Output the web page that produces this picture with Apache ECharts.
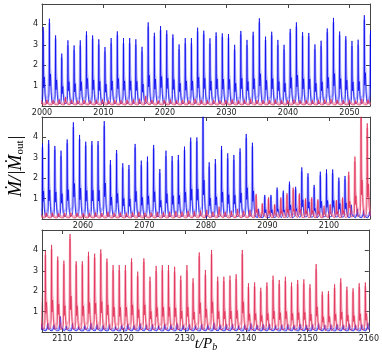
<!DOCTYPE html>
<html>
<head>
<meta charset="utf-8">
<script src="https://cdn.jsdelivr.net/npm/echarts@6/dist/echarts.min.js"></script>
<style>
html, body { margin: 0; padding: 0; background: #fff; }
#main { width: 382px; height: 363px; }
</style>
</head>
<body>
<div id="main"></div>
<script>
// one spike per binary orbit, k = 0 .. 159
var t0 = 2000.2, period = 1.004, redShift = -0.4;

var panelRanges = [[2000, 2053.33], [2053.33, 2106.67], [2106.67, 2160]];
var xTicks = [
    [2000, 2010, 2020, 2030, 2040, 2050],
    [2060, 2070, 2080, 2090, 2100],
    [2110, 2120, 2130, 2140, 2150, 2160]
];

// peak of each orbit (blue)
var bluePeak = [
    3.87, 4.28, 3.46, 2.57, 3.22, 2.97, 3.22, 3.66, 3.46, 3.27, 2.89, 3.33, 3.66,
    3.33, 3.33, 3.27, 2.9, 4.1, 3.59, 3.92, 3.71, 3.51, 3.02, 3.33, 3.33, 3.84,
    3.69, 3.32, 3.61, 3.56, 3.53, 3.0, 3.68, 3.24, 3.64, 4.3, 3.4, 3.64, 3.24,
    3.0, 3.78, 4.1, 3.62, 3.58, 3.02, 3.2, 3.8, 4.32, 3.65, 3.42, 3.19, 3.25, 4.45,
    3.7, 3.87, 3.58, 3.35, 3.9, 4.74, 4.12, 3.79, 3.82, 3.82, 4.8, 2.89, 3.38, 2.73,
    2.65, 3.68, 2.86, 3.06, 3.63, 2.45, 3.35, 3.09, 3.14, 3.55, 3.99, 4.0, 5.2, 2.78, 2.94,
    3.58, 3.22, 3.14, 3.46, 4.17, 3.74,
    0.5,
    1.18, 1.18, 1.54, 1.39, 1.83, 1.58, 2.53, 2.24, 1.67, 2.32, 2.43, 2.43, 2.03, 2.11,
    0.7, 0.5, 0.45, 0.4,
    0.44, 0.36, 0.77, 0.28, 0.44, 0.28, 0.33, 0.44, 0.36, 0.33, 0.36, 0.28,
    0.35, 0.4, 0.33, 0.42, 0.36, 0.38, 0.32, 0.4, 0.36, 0.42, 0.35, 0.38, 0.33, 0.4,
    0.36, 0.45, 0.35, 0.38, 0.4, 0.33, 0.36, 0.42, 0.35, 0.38, 0.4, 0.34, 0.36, 0.38,
    0.33, 0.4, 0.35, 0.37, 0.42, 0.34, 0.36, 0.38, 0.35, 0.4, 0.36, 0.38, 0.45
];

// peak of each orbit (red)
var redPeak = [
    0.28, 0.3, 0.28, 0.32, 0.45, 0.3, 0.28, 0.3, 0.27, 0.3, 0.32, 0.28, 0.3,
    0.28, 0.3, 0.32, 0.35, 0.5, 0.3, 0.28, 0.3, 0.32, 0.28, 0.3, 0.28, 0.35,
    0.3, 0.28, 0.3, 0.27, 0.3, 0.32, 0.28, 0.3, 0.35, 0.3, 0.28, 0.3, 0.32,
    0.28, 0.3, 0.32, 0.28, 0.3, 0.28, 0.3, 0.32, 0.35, 0.3, 0.28, 0.3, 0.28, 0.35,
    0.32, 0.3, 0.3, 0.28, 0.3, 0.32, 0.3, 0.28, 0.3, 0.32, 0.3, 0.35, 0.3, 0.32,
    0.3, 0.33, 0.35, 0.3, 0.32, 0.35, 0.33, 0.35, 0.38, 0.35, 0.4, 0.38, 0.42,
    0.45, 0.35, 0.6, 0.35, 0.4, 0.5, 0.4, 0.45,
    1.23, 0.77, 1.06, 0.72, 1.06, 1.26, 1.54, 1.26, 1.01, 1.06, 0.96, 0.65, 0.72,
    0.93, 1.06, 2.32, 3.06, 5.2, 4.69,
    3.97, 4.27, 3.7, 3.5, 4.8, 3.47, 3.47, 3.93, 3.84, 4.05, 3.6, 3.28, 3.28,
    3.28, 3.61, 2.96, 3.61, 2.71, 3.24, 3.28, 3.28, 3.2, 2.76, 3.28, 2.63,
    3.9, 3.04, 4.02, 2.71, 2.71, 2.76, 2.83, 4.02, 2.39, 2.43, 2.17, 2.43, 2.76, 2.55,
    2.71, 2.43, 2.55, 2.58, 2.34, 3.33, 1.98, 2.01, 2.34, 2.63, 2.22, 2.14, 2.39, 2.43
];

// shape of one orbit around its peak (fraction of the peak)
var phase      = [-0.5, -0.3, -0.18, -0.1, -0.05, -0.02, 0, 0.03, 0.07, 0.12, 0.17, 0.22, 0.28, 0.36, 0.45];
var darkShape  = [0.0, 0.01, 0.03, 0.07, 0.15, 0.5, 1.0, 0.35, 0.22, 0.3, 0.36, 0.28, 0.15, 0.07, 0.02];
var lightShape = [0.03, 0.05, 0.1, 0.35, 0.75, 0.92, 0.95, 0.85, 0.6, 0.42, 0.38, 0.3, 0.2, 0.12, 0.06];

function cycles(peaks, shape, shift, base, lo, hi) {
    var out = [];
    for (var k = 0; k < peaks.length; k++) {
        var tc = t0 + k * period + shift;
        if (tc < lo - 1 || tc > hi + 1) continue;
        for (var j = 0; j < phase.length; j++) {
            out.push([tc + phase[j], base + (peaks[k] - base) * shape[j]]);
        }
    }
    return out;
}

var grids = [], xAxes = [], yAxes = [], series = [];
var tops = [4, 117, 230];
var frame = '#444';
var font = 'DejaVu Sans';

panelRanges.forEach(function (r, i) {
    grids.push({left: 42, top: tops[i], width: 328, height: 102});
    xAxes.push({
        type: 'value', gridIndex: i, min: r[0], max: r[1], position: 'bottom',
        axisLine: {show: true, onZero: false, lineStyle: {color: frame, width: 1}},
        axisTick: {show: true, inside: true, length: 4, customValues: xTicks[i], lineStyle: {color: frame}},
        axisLabel: {
            show: true, customValues: xTicks[i], fontSize: 8, fontFamily: font, color: '#222', margin: 3,
            formatter: function (v) { return String(v); }
        },
        splitLine: {show: false}
    });
    xAxes.push({
        type: 'value', gridIndex: i, min: r[0], max: r[1], position: 'top',
        axisLine: {show: true, onZero: false, lineStyle: {color: frame, width: 1}},
        axisTick: {show: true, inside: true, length: 4, customValues: xTicks[i], lineStyle: {color: frame}},
        axisLabel: {show: false},
        splitLine: {show: false}
    });
    yAxes.push({
        type: 'value', gridIndex: i, min: 0, max: 5, interval: 1, position: 'left',
        axisLine: {show: true, onZero: false, lineStyle: {color: frame, width: 1}},
        axisTick: {show: true, inside: true, length: 4, lineStyle: {color: frame}},
        axisLabel: {
            fontSize: 8, fontFamily: font, color: '#222', margin: 4,
            formatter: function (v) { return (v === 0 || v === 5) ? '' : String(v); }
        },
        splitLine: {show: false}
    });
    yAxes.push({
        type: 'value', gridIndex: i, min: 0, max: 5, interval: 1, position: 'right',
        axisLine: {show: true, onZero: false, lineStyle: {color: frame, width: 1}},
        axisTick: {show: true, inside: true, length: 4, lineStyle: {color: frame}},
        axisLabel: {show: false},
        splitLine: {show: false}
    });

    var lo = r[0], hi = r[1];
    var lines = [
        {d: cycles(bluePeak, lightShape, 0, 0.1, lo, hi), c: 'rgba(95,95,255,0.5)', w: 2},
        {d: cycles(bluePeak, darkShape, 0, 0.05, lo, hi), c: '#0000ee', w: 0.7},
        {d: cycles(redPeak, lightShape, redShift, 0.1, lo, hi), c: 'rgba(240,100,135,0.5)', w: 2},
        {d: cycles(redPeak, darkShape, redShift, 0.05, lo, hi), c: '#e0284f', w: 0.7}
    ];
    lines.forEach(function (l) {
        series.push({
            type: 'line', xAxisIndex: i * 2, yAxisIndex: i * 2,
            data: l.d, showSymbol: false, clip: true, silent: true,
            lineStyle: {color: l.c, width: l.w}
        });
    });
});

var myChart = echarts.init(document.getElementById('main'));
myChart.setOption({
    animation: false,
    backgroundColor: '#fff',
    grid: grids,
    xAxis: xAxes,
    yAxis: yAxes,
    series: series,
    graphic: [
        {
            type: 'text', x: 16, y: 166, rotation: Math.PI / 2,
            style: {
                text: '{m|Ṁ/|Ṁ}{s|out}{m||}',
                align: 'center', verticalAlign: 'middle',
                rich: {
                    m: {fontFamily: 'Liberation Serif', fontStyle: 'italic', fontSize: 19, fill: '#000'},
                    s: {fontFamily: 'Liberation Serif', fontSize: 11, fill: '#000', padding: [9, 0, 0, 0]}
                }
            }
        },
        {
            type: 'text', x: 206, y: 344,
            style: {
                text: '{m|t/P}{s|b}',
                align: 'center', verticalAlign: 'middle',
                rich: {
                    m: {fontFamily: 'Liberation Serif', fontStyle: 'italic', fontSize: 15, fill: '#000'},
                    s: {fontFamily: 'Liberation Serif', fontStyle: 'italic', fontSize: 10, fill: '#000', padding: [7, 0, 0, 0]}
                }
            }
        }
    ]
});
window.onresize = function () {
    myChart.resize();
};
</script>
</body>
</html>
